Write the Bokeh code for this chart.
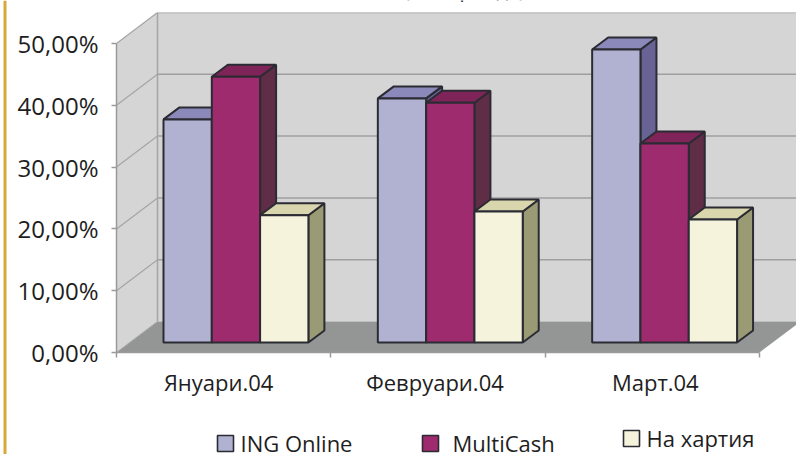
from bokeh.embed import file_html
from bokeh.resources import INLINE
from bokeh.plotting import figure
from bokeh.models import Range1d, LinearAxis, FixedTicker, Legend, LegendItem
from bokeh.core.properties import value

categories = ["Януари.04", "Февруари.04", "Март.04"]
series_names = ["ING Online", "MultiCash", "На хартия"]
ing_online = [36.1, 39.5, 47.4]
multicash = [43.0, 38.8, 32.2]
na_hartiya = [20.6, 21.2, 19.9]
y_ticks = [0, 10, 20, 30, 40, 50]
y_labels = ["0,00%", "10,00%", "20,00%", "30,00%", "40,00%", "50,00%"]
title_text = "(за периода)"

front_colors = ["#B1B2D2", "#9E2B6E", "#F5F3DC"]
top_colors = ["#8B89BA", "#7F2459", "#D9D6AE"]
side_colors = ["#676395", "#5F2D45", "#9A9A74"]
FONT = "Open Sans"
TEXT = "#1E1E1E"
ABS = {"position": "absolute", "left": "0px", "top": "0px"}

W, H = 796, 454
LEFT, TOP, BOTTOM = 116, 12, 352
XU = 214.33  # px per category
YU = 6.18    # px per percent

# 3-D projection in data units
WALL_DX, WALL_DY = 41 / XU, 31 / YU
BASE_DX, BASE_DY = 13 / XU, 10 / YU
BAR_DX, BAR_DY = 16 / XU, 12 / YU
BAR_W = 48.3 / XU
GAP = 34 / XU

# ---- back layer: a figure whose frame is the whole page (rule, title, legend)
bg = figure(width=W, height=H, output_backend="svg", toolbar_location=None,
            x_range=Range1d(0, W), y_range=Range1d(H, 0), min_border=0,
            x_axis_type=None, y_axis_type=None, outline_line_color=None,
            background_fill_color="white", border_fill_color="white")
bg.styles = ABS
bg.grid.visible = False
bg.quad(left=[3], right=[6], top=[0], bottom=[H], fill_color="#D8A93A", line_color=None)
bg.text(x=[464], y=[-11], text=[title_text], text_font=value(FONT), text_font_size="20px",
        text_color=TEXT, text_align="center", text_baseline="alphabetic")

legend_px = [(214.5, 441, 6), (419.5, 441, 13), (620.5, 436, 6)]
for s, (name, (lx, ly, st)) in enumerate(zip(series_names, legend_px)):
    swatch = bg.quad(left=[-50], right=[-40], top=[-50], bottom=[-40], fill_color=front_colors[s],
                     line_color="#2B2B33", line_width=1.6)
    leg = Legend(items=[LegendItem(label=name, renderers=[swatch])],
                 location=(lx, H - ly - 17), orientation="horizontal",
                 glyph_width=20, glyph_height=20, label_standoff=st, margin=0, padding=0,
                 border_line_color=None, background_fill_alpha=0, label_text_font=FONT,
                 label_text_font_size="22px", label_text_color=TEXT, label_height=17)
    bg.add_layout(leg, "center")

# ---- front layer: transparent figure with the axes and the 3-D chart
p = figure(width=W, height=H, output_backend="svg", toolbar_location=None,
           x_range=Range1d(0, (W - LEFT) / XU), y_range=Range1d(0, (BOTTOM - TOP) / YU),
           min_border_left=LEFT, min_border_right=0, min_border_top=TOP,
           min_border_bottom=H - BOTTOM, x_axis_type=None, y_axis_type=None,
           outline_line_color=None, background_fill_alpha=0, border_fill_alpha=0)
p.styles = ABS
p.grid.visible = False

n = len(categories)
top_v = max(y_ticks)
x_end = n + WALL_DX

# walls and floor
p.patch([0, WALL_DX, WALL_DX, 0], [0, WALL_DY, top_v + WALL_DY, top_v], fill_color="#D6D5D6", line_color=None)
p.patch([WALL_DX, x_end, x_end, WALL_DX], [WALL_DY, WALL_DY, top_v + WALL_DY, top_v + WALL_DY],
        fill_color="#D6D5D6", line_color=None)
p.patch([0, n, x_end, WALL_DX], [0, 0, WALL_DY, WALL_DY], fill_color="#949695", line_color=None)

# gridlines
grid_t = y_ticks[1:]
p.segment([WALL_DX] * len(grid_t), [v + WALL_DY for v in grid_t], [x_end] * len(grid_t),
          [v + WALL_DY for v in grid_t], line_color="#9F9F9F", line_width=1.5)
p.segment([0] * len(grid_t), grid_t, [WALL_DX] * len(grid_t), [v + WALL_DY for v in grid_t],
          line_color="#A5A5A5", line_width=1.2)
p.segment([WALL_DX], [WALL_DY], [WALL_DX], [top_v + WALL_DY], line_color="#A5A5A5", line_width=1.5)
p.segment([0], [0], [WALL_DX], [WALL_DY], line_color="#A5A5A5", line_width=1)

# bars, left to right so each front hides its neighbour's side
EDGE = "#2B2B33"
for s, vals in enumerate([ing_online, multicash, na_hartiya]):
    lefts = [i + GAP + BASE_DX + s * BAR_W for i in range(n)]
    rights = [l + BAR_W for l in lefts]
    bot = BASE_DY
    tops = [bot + v for v in vals]
    p.patches([[r, r + BAR_DX, r + BAR_DX, r] for r in rights],
              [[bot, bot + BAR_DY, t + BAR_DY, t] for t in tops],
              fill_color=side_colors[s], line_color=EDGE, line_width=2)
    p.patches([[l, r, r + BAR_DX, l + BAR_DX] for l, r in zip(lefts, rights)],
              [[t, t, t + BAR_DY, t + BAR_DY] for t in tops],
              fill_color=top_colors[s], line_color=EDGE, line_width=2)
    p.quad(left=lefts, right=rights, bottom=bot, top=tops,
           fill_color=front_colors[s], line_color=EDGE, line_width=2)

# axes
yax = LinearAxis(ticker=FixedTicker(ticks=y_ticks), bounds=(0, top_v),
                 major_label_overrides=dict(zip(y_ticks, y_labels)),
                 axis_line_color="#9A9A9A", axis_line_width=1.5,
                 major_tick_line_color="#9A9A9A", major_tick_line_width=1.5,
                 major_tick_in=0, major_tick_out=5, minor_tick_line_color=None,
                 major_label_text_font=FONT, major_label_text_font_size="24px",
                 major_label_text_color=TEXT, major_label_standoff=13)
p.add_layout(yax, "left")

label_nudge_px = [-5, -3, 3]
cat_pos = [i + 0.5 + d / XU for i, d in enumerate(label_nudge_px)]
xax = LinearAxis(ticker=FixedTicker(ticks=cat_pos, minor_ticks=list(range(n + 1))), bounds=(0, n),
                 major_label_overrides=dict(zip(cat_pos, categories)),
                 axis_line_color="#9A9A9A", axis_line_width=1.5,
                 major_tick_line_color=None, minor_tick_line_color="#9A9A9A", minor_tick_line_width=1.5,
                 minor_tick_in=0, minor_tick_out=5,
                 major_label_text_font=FONT, major_label_text_font_size="22px",
                 major_label_text_color=TEXT, major_label_standoff=8)
p.add_layout(xax, "below")

open("out.html", "w").write(file_html([bg, p], INLINE))
